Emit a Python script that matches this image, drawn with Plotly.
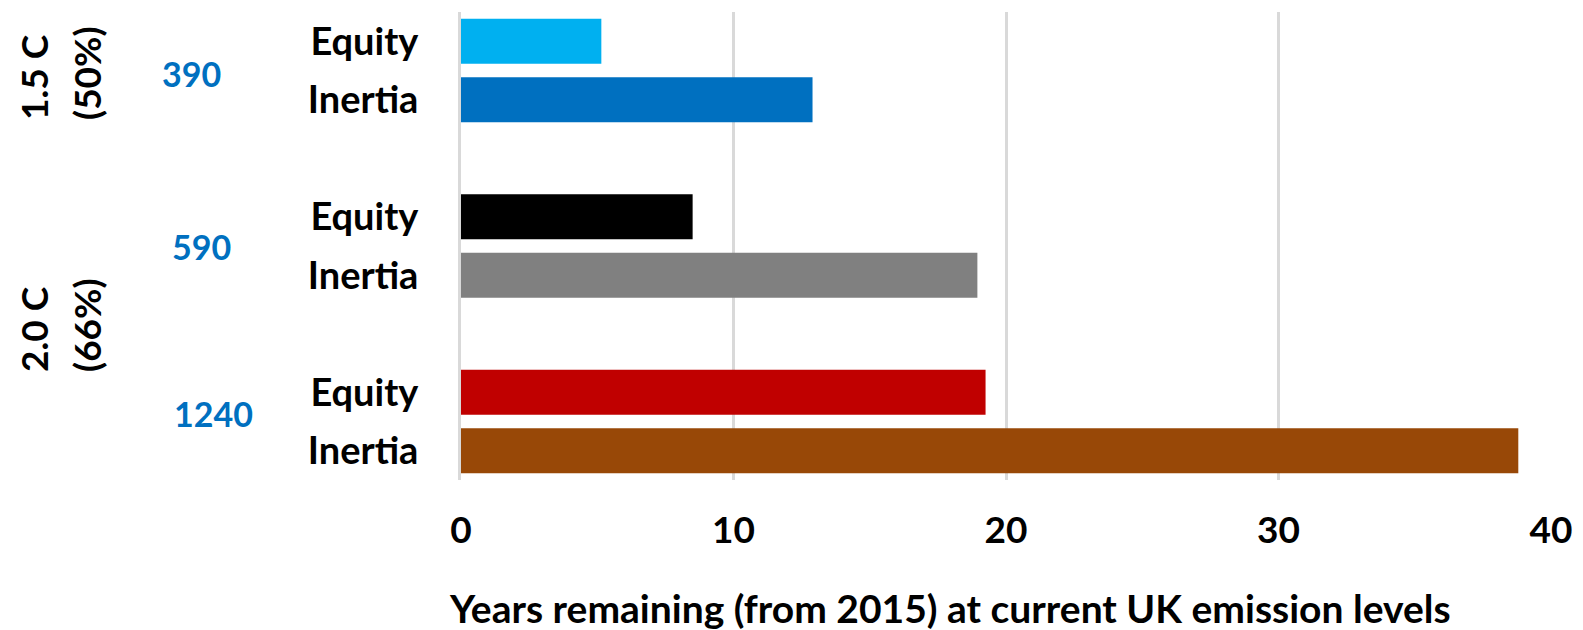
import plotly.graph_objects as go

# Data
row_ids = ["eq_390", "in_390", "gap_1", "eq_590", "in_590", "gap_2", "eq_1240", "in_1240"]
row_labels = ["Equity", "Inertia", "", "Equity", "Inertia", "", "Equity", "Inertia"]
years = [5.15, 12.9, None, 8.5, 18.95, None, 19.25, 38.8]
colors = ["#00B0F0", "#0070C0", "#FFFFFF", "#000000", "#808080", "#FFFFFF", "#C00000", "#984807"]
budgets = ["390", "590", "1240"]
target_lines = [["1.5 C", "(50%)"], ["2.0 C", "(66%)"]]
x_ticks = [0, 10, 20, 30, 40]
x_title = "Years remaining (from 2015) at current UK emission levels"

W, H = 1583, 630
L, R, T, B = 461, 32, 12, 150
PW, PH = W - L - R, H - T - B

def px(x):
    return (x - L) / PW

def py(y):
    return 1 - (y - T) / PH

FONT = "Lato"

fig = go.Figure()
fig.add_trace(go.Bar(
    y=row_ids, x=years, orientation="h",
    marker=dict(color=colors, line=dict(width=0)),
    hoverinfo="x",
))

fig.update_layout(
    width=W, height=H,
    margin=dict(l=L, r=R, t=T, b=B, pad=0),
    paper_bgcolor="white", plot_bgcolor="white",
    bargap=0.23,
    showlegend=False,
    font=dict(family=FONT, color="black"),
)

fig.update_xaxes(
    range=[0, 40], tickvals=x_ticks, ticktext=[str(v) for v in x_ticks],
    showgrid=True, gridcolor="#D9D9D9", gridwidth=3,
    zeroline=False, showline=False, ticks="",
    tickfont=dict(family=FONT, size=37, color="black", weight="bold"),
    ticklabelstandoff=25,
)
fig.update_yaxes(
    type="category", categoryorder="array", categoryarray=row_ids,
    range=[7.5, -0.5],
    tickvals=[r for r, l in zip(row_ids, row_labels) if l],
    ticktext=[l for l in row_labels if l],
    showgrid=False, zeroline=False, showline=True, linecolor="#D9D9D9", linewidth=3,
    ticks="",
    tickfont=dict(family=FONT, size=38, color="black", weight="bold"),
    ticklabelstandoff=32,
)

ann = []
# budget numbers
for txt, (x, y) in zip(budgets, [(191, 73), (201, 246), (213, 413)]):
    ann.append(dict(text=txt, x=px(x), y=py(y), xref="paper", yref="paper",
                    xanchor="center", yanchor="middle", showarrow=False,
                    font=dict(family=FONT, size=34, color="#0070C0", weight="bold")))
# target labels (rotated, two lines each, bottom aligned)
for lines, ybot in zip(target_lines, [122, 374]):
    for txt, x in zip(lines, [33, 86]):
        ann.append(dict(text=txt, x=px(x), y=py(ybot), xref="paper", yref="paper",
                        xanchor="center", yanchor="bottom", showarrow=False, textangle=-90,
                        font=dict(family=FONT, size=37, color="black", weight="bold")))
# x title
ann.append(dict(text=x_title, x=px(950), y=py(608), xref="paper", yref="paper",
                xanchor="center", yanchor="middle", showarrow=False,
                font=dict(family=FONT, size=39, color="black", weight="bold")))
fig.update_layout(annotations=ann)

fig.write_html("out.html")
